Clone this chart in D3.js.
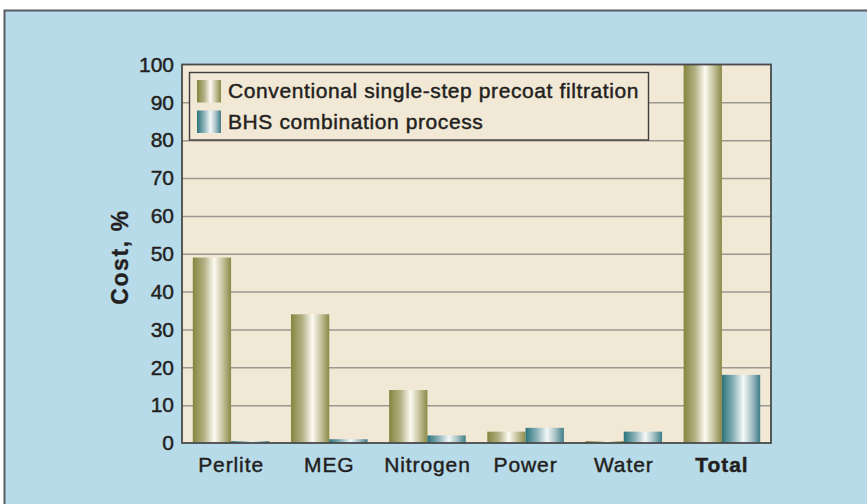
<!DOCTYPE html>
<html>
<head>
<meta charset="utf-8">
<script src="https://cdn.jsdelivr.net/npm/d3@7"></script>
<style>
  body { margin: 0; background: #fff; }
  svg { display: block; font-family: "Liberation Sans", Arial, sans-serif; }
  .lbl { fill: #231f20; stroke: #231f20; stroke-width: 0.45; }
</style>
</head>
<body>
<svg id="chart" width="867" height="504"></svg>
<script>
// data
const categories = ["Perlite", "MEG", "Nitrogen", "Power", "Water", "Total"];
const conventional = [49, 34, 14, 3, 0.5, 100];
const bhs = [0.5, 1, 2, 4, 3, 18];
const seriesNames = ["Conventional single-step precoat filtration", "BHS combination process"];
const yTicks = [0, 10, 20, 30, 40, 50, 60, 70, 80, 90, 100];

const plot = { left: 182, right: 771, top: 64.5, bottom: 443 };

const svg = d3.select("#chart");

// gradients for the cylinder look
const defs = svg.append("defs");
function grad(id, stops) {
  const g = defs.append("linearGradient").attr("id", id)
    .attr("x1", 0).attr("x2", 1).attr("y1", 0).attr("y2", 0);
  stops.forEach(s => g.append("stop").attr("offset", s[0]).attr("stop-color", s[1]));
}
grad("olive", [[0, "#85853f"], [0.3, "#b3b185"], [0.56, "#fcfbf2"], [0.78, "#c6c39e"], [1, "#8a8947"]]);
grad("teal", [[0, "#2a737b"], [0.3, "#8cb3b9"], [0.56, "#f4f8f8"], [0.78, "#a6c1c6"], [1, "#3c7d86"]]);

// background + outer frame
svg.append("rect").attr("x", 4.5).attr("y", 10.5).attr("width", 880).attr("height", 520)
  .attr("fill", "#b8dbea").attr("stroke", "#5a5c60").attr("stroke-width", 2);

svg.append("rect")
  .attr("x", plot.left).attr("y", plot.top)
  .attr("width", plot.right - plot.left).attr("height", plot.bottom - plot.top)
  .attr("fill", "#f1e8d5");

const x = d3.scaleBand()
  .domain(categories)
  .range([plot.left, plot.right])
  .paddingInner(0.22)
  .paddingOuter(0.11);

const xSub = d3.scaleBand()
  .domain([0, 1])
  .range([0, x.bandwidth()]);

const y = d3.scaleLinear()
  .domain([0, 100])
  .range([plot.bottom, plot.top]);

// grid lines
svg.append("g")
  .attr("transform", "translate(" + plot.left + ",0)")
  .call(d3.axisLeft(y).tickValues(yTicks.slice(1, -1)).tickSize(-(plot.right - plot.left)).tickFormat(""))
  .call(g => g.select(".domain").remove())
  .call(g => g.selectAll("line").attr("stroke", "#9c9892").attr("stroke-width", 1.5));

// bars
const groups = svg.selectAll(".grp")
  .data(categories)
  .enter().append("g")
  .attr("class", "grp")
  .attr("transform", d => "translate(" + x(d) + ",0)");

groups.append("rect")
  .attr("x", xSub(0))
  .attr("width", xSub.bandwidth())
  .attr("y", (d, i) => y(conventional[i]))
  .attr("height", (d, i) => y(0) - y(conventional[i]))
  .attr("fill", "url(#olive)");

groups.append("rect")
  .attr("x", xSub(1))
  .attr("width", xSub.bandwidth())
  .attr("y", (d, i) => y(bhs[i]))
  .attr("height", (d, i) => y(0) - y(bhs[i]))
  .attr("fill", "url(#teal)");

// plot frame
svg.append("rect")
  .attr("x", plot.left).attr("y", plot.top)
  .attr("width", plot.right - plot.left).attr("height", plot.bottom - plot.top)
  .attr("fill", "none").attr("stroke", "#4a4a4c").attr("stroke-width", 1.8);

// y axis labels
svg.append("g")
  .attr("transform", "translate(" + plot.left + ",0)")
  .call(d3.axisLeft(y).tickValues(yTicks).tickSize(0).tickPadding(8))
  .call(g => g.select(".domain").remove())
  .call(g => g.selectAll("text")
    .attr("class", "lbl")
    .attr("font-size", 21)
    .attr("font-family", "Liberation Sans, Arial, sans-serif"));

// x axis labels
svg.append("g")
  .attr("transform", "translate(0," + plot.bottom + ")")
  .call(d3.axisBottom(x).tickSize(0).tickPadding(14))
  .call(g => g.select(".domain").remove())
  .call(g => g.selectAll("text")
    .attr("class", "lbl")
    .attr("font-size", 21)
    .attr("letter-spacing", 0.9)
    .attr("font-family", "Liberation Sans, Arial, sans-serif")
    .attr("font-weight", d => d === "Total" ? "bold" : "normal")
    .attr("stroke-width", d => d === "Total" ? 0.3 : 0.55));

// y title
svg.append("text")
  .attr("transform", "translate(128,257) rotate(-90)")
  .attr("text-anchor", "middle")
  .attr("font-size", 23)
  .attr("font-weight", "bold")
  .attr("letter-spacing", 1.6)
  .attr("fill", "#231f20")
  .attr("stroke", "#231f20")
  .attr("stroke-width", 0.3)
  .text("Cost, %");

// legend
const legend = svg.append("g");
legend.append("rect")
  .attr("x", 189.5).attr("y", 72.5).attr("width", 459).attr("height", 67.5)
  .attr("fill", "#f1e8d5").attr("stroke", "#3d3d3f").attr("stroke-width", 1.4);

const items = legend.selectAll(".item")
  .data(seriesNames)
  .enter().append("g")
  .attr("transform", (d, i) => "translate(197," + (80 + i * 30.5) + ")");

items.append("rect")
  .attr("width", 24).attr("height", 22.5)
  .attr("fill", (d, i) => i === 0 ? "url(#olive)" : "url(#teal)");

items.append("text")
  .attr("class", "lbl")
  .attr("x", 31).attr("y", 18)
  .attr("font-size", 21)
  .attr("letter-spacing", 0.6)
  .text(d => d);
</script>
</body>
</html>
